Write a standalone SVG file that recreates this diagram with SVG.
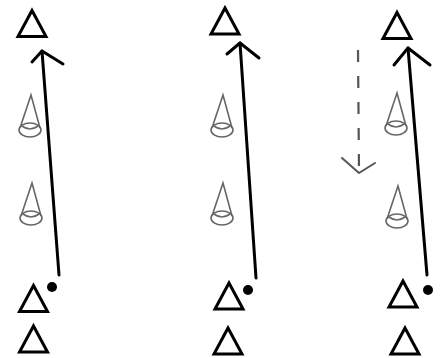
<svg xmlns="http://www.w3.org/2000/svg" xmlns:xlink="http://www.w3.org/1999/xlink" width="443" height="358" viewBox="0 0 443 358">
<style>
.tri{fill:none;stroke:#000;stroke-width:3;stroke-linejoin:miter}
.cone{fill:none;stroke:#666;stroke-width:1.6}
.run{fill:none;stroke:#000;stroke-width:3;stroke-linecap:round;stroke-linejoin:round}
.dash{fill:none;stroke:#555;stroke-width:2.2;stroke-dasharray:12 14}
.dashhead{fill:none;stroke:#555;stroke-width:2;stroke-linecap:round;stroke-linejoin:round}
.ball{fill:#000}
</style>
<defs>
<path id="t" class="tri" d="M0,-13 L14,13 L-14,13 Z"/>
<g id="c" class="cone">
<path d="M-10,-2 L1,-35 L10,-2"/>
<ellipse cx="0" cy="0" rx="11" ry="7"/>
<path d="M-8,-4 Q0,2 8,-4"/>
</g>
</defs>
<rect width="443" height="358" fill="#fff"/>
<g id="col1">
<g id="tri1a"><use xlink:href="#t" x="32" y="23.5"/></g>
<g id="cone1a"><use xlink:href="#c" x="30" y="130"/></g>
<g id="cone1b"><use xlink:href="#c" x="31" y="218"/></g>
<g id="tri1b"><use xlink:href="#t" x="33.5" y="298.5"/></g>
<g id="tri1c"><use xlink:href="#t" x="33.5" y="339"/></g>
<g id="ball1"><circle class="ball" cx="52" cy="287" r="5"/></g>
</g>
<g id="col2">
<g id="tri2a"><use xlink:href="#t" x="225" y="21"/></g>
<g id="cone2a"><use xlink:href="#c" x="222" y="130"/></g>
<g id="cone2b"><use xlink:href="#c" x="222" y="218"/></g>
<g id="tri2b"><use xlink:href="#t" x="229" y="296"/></g>
<g id="tri2c"><use xlink:href="#t" x="228" y="341"/></g>
<g id="ball2"><circle class="ball" cx="248" cy="290" r="5"/></g>
</g>
<g id="col3">
<g id="tri3a"><use xlink:href="#t" x="397" y="25.5"/></g>
<g id="cone3a"><use xlink:href="#c" x="396" y="128"/></g>
<g id="cone3b"><use xlink:href="#c" x="397" y="221"/></g>
<g id="tri3b"><use xlink:href="#t" x="403" y="294"/></g>
<g id="tri3c"><use xlink:href="#t" x="405" y="341"/></g>
<g id="ball3"><circle class="ball" cx="428" cy="290" r="5"/></g>
</g>
<g id="connectors">
<path class="run" d="M59,275 L42,51"/>
<path class="run" d="M32,62 L42,51 L63,64"/>
<path class="run" d="M256,278 L240,43"/>
<path class="run" d="M227,54 L240,43 L259,58"/>
<path class="run" d="M427,275 L408,48"/>
<path class="run" d="M394,65 L408,48 L430,65"/>
<path class="dash" d="M358,50 L359,172"/>
<path class="dashhead" d="M342,158 L359,173 L375,163"/>
</g>
</svg>
